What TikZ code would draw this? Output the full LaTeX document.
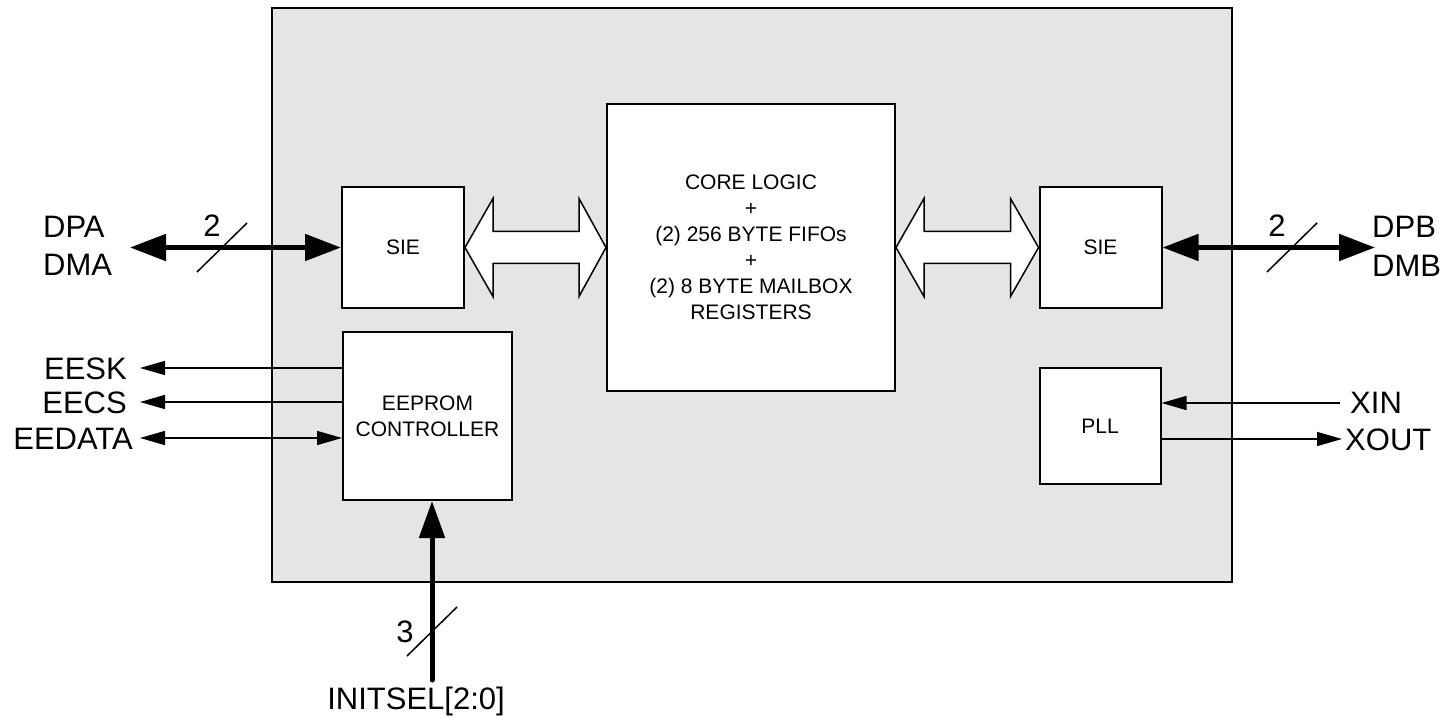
\documentclass[tikz,border=0pt]{standalone}
\usepackage{fontspec}
\setmainfont{Liberation Sans}
\usetikzlibrary{arrows.meta,calc}
\definecolor{bggray}{RGB}{229,229,229}
\begin{document}
\begin{tikzpicture}[x=1pt,y=-1pt,
  chipbox/.style={draw, line width=2pt, fill=bggray, inner sep=0pt},
  blk/.style={draw, line width=2pt, fill=white, inner sep=0pt, align=center, font=\fontsize{21}{26}\selectfont},
  lbl/.style={inner sep=0pt, font=\fontsize{31}{37}\selectfont},
  bus/.style={line width=5pt, {Triangle[length=36pt,width=26pt]}-{Triangle[length=36pt,width=26pt]}},
  sigout/.style={line width=1.5pt, -{Triangle[length=25pt,width=14pt]}},
  sigboth/.style={line width=1.5pt, {Triangle[length=25pt,width=14pt]}-{Triangle[length=25pt,width=14pt]}},
  hollow/.style={draw, line width=1.5pt, fill=white, line join=miter},
  slash/.style={line width=1.5pt},
]
\useasboundingbox (0,0) rectangle (1456,719);

% chip outline
\node[chipbox, minimum width=960pt, minimum height=574pt] (chip) at (752,295) {};

% blocks
\node[blk, minimum width=122pt, minimum height=121pt] (sieL) at (403,247.5) {SIE};
\node[blk, minimum width=288pt, minimum height=286pt] (core) at (751,247.5) {CORE LOGIC\\+\\(2) 256 BYTE FIFOs\\+\\(2) 8 BYTE MAILBOX\\REGISTERS};
\node[blk, minimum width=122pt, minimum height=121pt] (sieR) at (1100.5,247.5) {SIE};
\node[blk, minimum width=169pt, minimum height=168pt] (ee) at (427.5,416) {EEPROM\\CONTROLLER};
\node[blk, minimum width=121pt, minimum height=116pt] (pll) at (1100,426) {PLL};

% hollow bus arrows
\draw[hollow] (sieL.east) -- ++(28,-49) -- ++(0,33) -- ($(core.west)+(-27,-16)$) -- ++(0,-33)
  -- (core.west) -- ++(-27,49) -- ++(0,-33) -- ($(sieL.east)+(28,16)$) -- ++(0,33) -- cycle;
\draw[hollow] (core.east) -- ++(28,-49) -- ++(0,33) -- ($(sieR.west)+(-28,-16)$) -- ++(0,-33)
  -- (sieR.west) -- ++(-28,49) -- ++(0,-33) -- ($(core.east)+(28,16)$) -- ++(0,33) -- cycle;

% labels
\node[lbl, anchor=base west] (dpa) at (43,238) {DPA};
\node[lbl, anchor=base west] (dma) at (43,276) {DMA};
\node[lbl, anchor=base west] (dpb) at (1372,238) {DPB};
\node[lbl, anchor=base west] (dmb) at (1372,277) {DMB};
\node[lbl, anchor=base east] (eesk) at (127,379) {EESK};
\node[lbl, anchor=base east] (eecs) at (127,413) {EECS};
\node[lbl, anchor=base east] (eedata) at (133,449) {EEDATA};
\node[lbl, anchor=base west] (xin) at (1350,413) {XIN};
\node[lbl, anchor=base west] (xout) at (1345,450) {XOUT};
\node[lbl, anchor=base] (initsel) at (416,709) {INITSEL[2:0]};
\node[lbl, anchor=base] (n2a) at (212,237) {2};
\node[lbl, anchor=base] (n2b) at (1277,237) {2};
\node[lbl, anchor=base] (n3) at (405,642) {3};

% free ends
\coordinate (dpaEnd) at (130,247.5);
\coordinate (dpbEnd) at (1375,247.5);
\coordinate (eeskEnd) at (140,368);
\coordinate (eecsEnd) at (140,402);
\coordinate (eedataEnd) at (140,438);
\coordinate (xinSrc) at (1340,403);
\coordinate (xoutEnd) at (1342,439);
\coordinate (initSrc) at (432,680);

% thick buses
\draw[bus] (dpaEnd) -- (sieL.west);
\draw[bus] (sieR.east) -- (dpbEnd);
\draw[line width=5pt, line cap=round, -{Triangle[length=37pt,width=25pt]}] (initSrc) -- (initSrc |- ee.south);

% thin signals
\draw[sigout] (ee.west |- eeskEnd) -- (eeskEnd);
\draw[sigout] (ee.west |- eecsEnd) -- (eecsEnd);
\draw[sigboth] (eedataEnd) -- (eedataEnd -| ee.west);
\draw[sigout] (xinSrc) -- (xinSrc -| pll.east);
\draw[sigout] (pll.east |- xoutEnd) -- (xoutEnd);

% bus width slashes
\draw[slash] (197,272) -- (247,223);
\draw[slash] (1267,272) -- (1317,223);
\draw[slash] (407,656) -- (457,607);
\end{tikzpicture}
\end{document}
